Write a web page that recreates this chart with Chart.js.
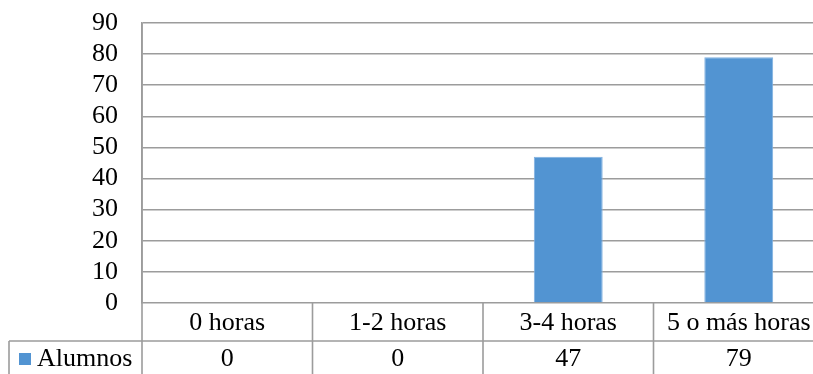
<!DOCTYPE html>
<html>
<head>
<meta charset="utf-8">
<script src="https://cdn.jsdelivr.net/npm/chart.js@4/dist/chart.umd.min.js"></script>
<style>
  html, body { margin: 0; padding: 0; background: #ffffff; overflow: hidden; }
  #wrap { width: 830px; height: 374px; }
</style>
</head>
<body>
<div id="wrap"><canvas id="c" width="830" height="374"></canvas></div>
<script>
// Horas de estudio por semana
const categories = ['0 horas', '1-2 horas', '3-4 horas', '5 o más horas'];
const alumnos = [0, 0, 47, 79];
const seriesName = 'Alumnos';
const yMin = 0, yMax = 90, yStep = 10;

const FONT = "'Liberation Serif', 'Times New Roman', serif";
const FONT_SIZE = 26;
const LINE = '#9c9c9c';
const LINE_W = 1.6;
const BAR = '#5294d2';

// Draws the data table beneath the plot, aligned with the category scale
const dataTable = {
  id: 'dataTable',
  afterDraw(chart) {
    const ctx = chart.ctx;
    const xs = chart.scales.x;
    const area = chart.chartArea;
    const n = categories.length;
    const colW = (area.right - area.left) / n;
    const top = area.bottom;
    const mid = 341;
    const bottom = chart.height;
    const tableLeft = 9;

    ctx.save();
    ctx.strokeStyle = LINE;
    ctx.lineWidth = LINE_W;
    ctx.beginPath();
    // axis line through the table
    ctx.moveTo(area.left, area.top); ctx.lineTo(area.left, bottom);
    // row separator
    ctx.moveTo(tableLeft, mid); ctx.lineTo(area.right, mid);
    // left edge of series row
    ctx.moveTo(tableLeft, mid); ctx.lineTo(tableLeft, bottom);
    // column dividers
    for (let i = 1; i <= n; i++) {
      const xb = xs.getPixelForValue(i - 1) + colW / 2;
      ctx.moveTo(xb, top); ctx.lineTo(xb, bottom);
    }
    ctx.stroke();

    ctx.fillStyle = '#000000';
    ctx.font = FONT_SIZE + 'px ' + FONT;
    ctx.textAlign = 'center';
    ctx.textBaseline = 'alphabetic';
    categories.forEach((c, i) => {
      const cx = xs.getPixelForValue(i);
      ctx.fillText(c, cx, 330);
      ctx.fillText(String(alumnos[i]), cx, 366);
    });

    // series key
    ctx.fillStyle = BAR;
    ctx.fillRect(19, 353, 12, 12);
    ctx.fillStyle = '#000000';
    ctx.textAlign = 'left';
    ctx.fillText(seriesName, 37, 366);
    ctx.restore();
  }
};

new Chart(document.getElementById('c'), {
  type: 'bar',
  data: {
    labels: categories,
    datasets: [{
      label: seriesName,
      data: alumnos,
      backgroundColor: BAR,
      borderColor: '#7fb0e0',
      borderWidth: 1,
      categoryPercentage: 1,
      barPercentage: 0.404
    }]
  },
  options: {
    responsive: false,
    animation: false,
    layout: { padding: { left: 0, top: 23, right: 6, bottom: 71 } },
    plugins: { legend: { display: false }, tooltip: { enabled: false } },
    scales: {
      x: { display: false },
      y: {
        min: yMin, max: yMax,
        afterFit(scale) {
          scale.width = 142;
          scale.paddingTop = 10;
          scale.paddingBottom = 10;
        },
        ticks: {
          stepSize: yStep,
          autoSkip: false,
          padding: 24,
          color: '#000000',
          font: { family: FONT, size: FONT_SIZE }
        },
        grid: { color: LINE, lineWidth: LINE_W, drawTicks: false },
        border: { display: true, color: LINE, width: LINE_W }
      }
    }
  },
  plugins: [dataTable]
});
</script>
</body>
</html>
